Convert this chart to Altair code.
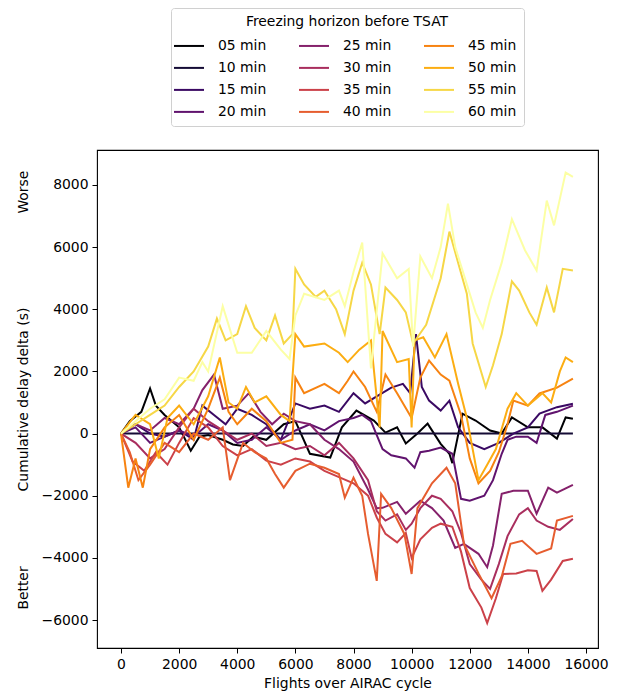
import altair as alt
import pandas as pd

LABELS = ["05 min", "10 min", "15 min", "20 min", "25 min", "30 min",
          "35 min", "40 min", "45 min", "50 min", "55 min", "60 min"]
COLORS = ["#000004", "#140b35", "#3a0963", "#60136e", "#85216b", "#a92e5e",
          "#cb4149", "#e65d2f", "#f78311", "#fcad12", "#f6d746", "#fcffa4"]

S05_X = [0, 300, 700, 1000, 1200, 1500, 2000, 2400, 2700, 3000, 3500, 3850, 4200, 4550, 5000, 5600, 6000, 6500,
         7200, 7600, 8100, 8700, 9100, 9500, 9800, 10200, 10550, 11000, 11300, 11400, 11750, 12200, 12700, 13100,
         13450, 14000, 14500, 15000, 15300, 15550]
S05_Y = [0, 400, 700, 1450, 900, 600, 200, -550, -100, -50, -200, -350, -400, -100, -200, 300, 400, -650,
         -770, 200, 740, 420, 30, 200, -320, 0, 320, -330, -650, -950, 640, 420, 100, 0,
         520, 200, 200, -160, 520, 480]

S10_X = [0, 15550]
S10_Y = [0, 0]

S15_X = [0, 500, 1000, 1500, 2000, 2500, 2800, 3200, 3600, 4000, 4500, 5000, 5500, 6000, 6500, 7000, 7500, 8000,
         8400, 8800, 9300, 9700, 9950, 10150, 10350, 10600, 11000, 11300, 11600, 12000, 12500, 13000, 13500, 14000,
         14400, 15000, 15550]
S15_Y = [0, 300, 0, -100, 100, -200, 900, 600, 300, 800, 600, 300, -200, 970, 800, 900, 700, 1300,
         970, 1200, 1480, 1600, 1300, 3200, 1500, 1060, 740, 1060, 200, -300, -500, -300, 0, 200,
         640, 850, 960]

S20_X = [0, 500, 1000, 1500, 2000, 2500, 3000, 3500, 4000, 4500, 5000, 5500, 6000, 6500, 7000, 7500, 8000, 8300,
         8600, 9000, 9300, 9800, 10100, 10300, 10600, 11000, 11400, 11700, 12000, 12500, 12800, 13100, 13300,
         13600, 14000, 14300, 14600, 15000, 15550]
S20_Y = [0, 200, -300, -100, 100, -100, 300, 100, -300, -200, 200, -200, 100, 300, 100, 400, 500, 600,
         400, -500, -700, -800, -1100, -600, -550, -450, -650, -2100, -2160, -2000, -1500, -650, -200,
         -100, -100, -300, 600, 700, 900]

S25_X = [0, 500, 1000, 1500, 2000, 2500, 2800, 3200, 3500, 4000, 4400, 4800, 5200, 5600, 6000, 6500, 7000, 7500,
         8000, 8500, 8800, 9000, 9500, 9800, 10300, 10700, 11100, 11500, 11800, 12300, 12600, 12800, 13100,
         13500, 14000, 14300, 14700, 15000, 15550]
S25_Y = [0, 300, 100, 500, 300, 800, 1400, 1900, 800, 900, 1300, 700, 300, 640, 400, 300, -200, -500,
         -900, -1800, -2400, -2390, -2200, -2580, -2160, -2400, -2800, -3680, -3550, -3870, -4300, -3600, -1940,
         -1840, -1840, -2580, -1740, -1900, -1650]

S30_X = [0, 500, 1000, 1500, 2000, 2500, 3000, 3500, 4000, 4500, 5000, 5500, 6000, 6500, 7000, 7500, 8000, 8500,
         8800, 9100, 9500, 9800, 10000, 10300, 10700, 11000, 11400, 11700, 12000, 12400, 12700, 13000, 13300,
         13700, 14000, 14300, 14700, 15100, 15550]
S30_Y = [0, -300, -800, -500, 200, 800, 400, 100, -200, 0, -400, -300, -500, -400, -700, -300, -800, -1500,
         -2500, -2800, -2600, -3100, -2900, -2400, -2000, -2100, -2500, -3200, -4200, -4700, -5000, -4200, -3300,
         -2600, -2400, -2800, -3000, -3100, -2750]

S35_X = [0, 400, 800, 1200, 1600, 2000, 2500, 3000, 3500, 4000, 4500, 5000, 5500, 6000, 6500, 7000, 7500, 8000,
         8500, 8800, 9100, 9500, 9800, 10000, 10300, 10700, 11000, 11400, 11700, 12000, 12400, 12600, 12900,
         13150, 13600, 14000, 14300, 14500, 14800, 15200, 15550]
S35_Y = [0, -900, -1200, -600, -1000, -300, 500, 200, -400, -700, -500, -870, -1000, -800, -900, -1200, -1400, -1600,
         -2000, -2700, -3230, -3500, -3200, -4000, -3400, -3030, -2900, -3000, -3800, -4970, -5600, -6100, -5300,
         -4520, -4500, -4400, -4420, -5060, -4700, -4100, -4030]

S40_X = [0, 300, 600, 1000, 1500, 2000, 2500, 3000, 3500, 3750, 4200, 4600, 5000, 5300, 5600, 6000, 6500, 7000,
         7500, 7700, 8000, 8300, 8500, 8800, 8950, 9300, 9750, 10000, 10200, 10700, 11200, 11500, 11800, 12300,
         12750, 13100, 13400, 13800, 14300, 14800, 15000, 15550]
S40_Y = [0, -600, -1500, -1000, -300, -600, 0, -200, 200, -1500, -300, -600, -800, -1300, -1740, -1200, -970, -1100,
         -1300, -2060, -1420, -2000, -3230, -4740, -1940, -2400, -3230, -4520, -2400, -1600, -1100, -1600, -3550, -4500,
         -5300, -4600, -3550, -3450, -3870, -3700, -2800, -2650]

S45_X = [0, 250, 500, 750, 1000, 1500, 2000, 2500, 3000, 3400, 3700, 4000, 4500, 5000, 5500, 5900, 6000, 6300,
         7000, 7500, 7800, 8000, 8400, 8800, 9100, 9500, 10000, 10300, 10600, 11000, 11300, 11700, 12000, 12300,
         12700, 13000, 13300, 13500, 14000, 14400, 15000, 15550]
S45_Y = [0, -1740, -800, -1740, -500, 200, 600, -200, 800, 1800, 700, 300, 800, 400, -300, -200, 1800, 1300,
         1600, 1300, 1700, 2000, 1500, 700, 1900, 1300, 500, 1800, 2350, 1900, 1700, 600, -800, -1600,
         -1200, -600, 300, 1060, 900, 1290, 1480, 1770]

S50_X = [0, 500, 1000, 1300, 1600, 2000, 2500, 3000, 3400, 3700, 4000, 4300, 4600, 5000, 5500, 5800, 6000, 6300,
         7000, 7500, 7800, 8200, 8600, 8900, 9000, 9500, 9900, 10000, 10100, 10400, 10800, 11200, 11600, 11900,
         12300, 12600, 12900, 13300, 13600, 14000, 14500, 14800, 15100, 15300, 15550]
S50_Y = [0, 600, 300, -800, 500, 900, 300, 1200, 2450, 1000, 800, 1500, 1000, 1200, 600, 400, 3200, 2800,
         2900, 2600, 2300, 2700, 3000, 200, 3300, 2300, 2400, 200, 3000, 3100, 2450, 3200, 1600, 500,
         -1500, -1000, -500, 800, 1300, 900, 1300, 1000, 2000, 2450, 2300]

S55_X = [0, 500, 1000, 1500, 2000, 2500, 3000, 3300, 3600, 4000, 4300, 4600, 5000, 5300, 5600, 5900, 6000, 6300,
         6700, 7000, 7400, 7700, 8000, 8300, 8600, 8900, 9100, 9500, 9800, 10050, 10500, 11000, 11300, 11600,
         11900, 12100, 12550, 12800, 13100, 13450, 13700, 14050, 14300, 14650, 14900, 15200, 15550]
S55_Y = [0, 300, 600, 900, 1500, 2000, 2800, 3700, 3000, 3200, 4100, 3400, 3000, 3800, 2900, 3200, 5300, 4800,
         4400, 4600, 4000, 3200, 4600, 5500, 4800, 3200, 4700, 4300, 3900, 2900, 3500, 5000, 6500, 5500,
         4500, 2900, 1500, 2200, 3200, 4900, 4600, 3900, 3500, 4700, 3900, 5300, 5250]

S60_X = [0, 500, 1000, 1500, 2000, 2500, 2800, 3000, 3500, 3800, 4000, 4500, 5000, 5500, 5800, 6000, 6300, 7000,
         7500, 7700, 8000, 8300, 8600, 9000, 9500, 9900, 10050, 10300, 10700, 11000, 11250, 11500, 11900, 12200,
         12450, 12700, 13100, 13450, 13900, 14300, 14650, 14900, 15300, 15550]
S60_Y = [0, 400, 800, 1100, 1800, 1700, 2300, 2000, 4100, 3200, 2600, 2600, 3300, 2700, 2400, 3800, 4500, 4300,
         4600, 4100, 5200, 6150, 2100, 5800, 5000, 5300, 2800, 5700, 5000, 6000, 7400, 6000, 4800, 3900,
         3400, 4300, 5500, 6900, 5900, 5250, 7500, 6700, 8400, 8260]

SERIES = [(S05_X, S05_Y), (S10_X, S10_Y), (S15_X, S15_Y), (S20_X, S20_Y), (S25_X, S25_Y), (S30_X, S30_Y),
          (S35_X, S35_Y), (S40_X, S40_Y), (S45_X, S45_Y), (S50_X, S50_Y), (S55_X, S55_Y), (S60_X, S60_Y)]

X_TICKS = [0, 2000, 4000, 6000, 8000, 10000, 12000, 14000, 16000]
Y_TICKS = [-6000, -4000, -2000, 0, 2000, 4000, 6000, 8000]

ANNOT_TEXT = ["Worse", "Better"]
ANNOT_Y = [7770, -4970]

rows = []
for lab, (xs, ys) in zip(LABELS, SERIES):
    for x, y in zip(xs, ys):
        rows.append({"series": lab, "flights": x, "delta": y})
df = pd.DataFrame(rows)

FONT = "DejaVu Sans"
FS = 13.9

x_enc = alt.X("flights:Q",
              scale=alt.Scale(domain=[-826, 16413], nice=False, zero=False),
              axis=alt.Axis(values=X_TICKS, format="d", title="Flights over AIRAC cycle"))
y_enc = alt.Y("delta:Q",
              scale=alt.Scale(domain=[-6901, 9126], nice=False, zero=False),
              axis=alt.Axis(values=Y_TICKS, format="d", title="Cumulative delay delta (s)"))

lines = alt.Chart(df).mark_line(strokeWidth=2, clip=True).encode(
    x=x_enc,
    y=y_enc,
    color=alt.Color(
        "series:N",
        scale=alt.Scale(domain=LABELS, range=COLORS),
        legend=alt.Legend(
            title="Freezing horizon before TSAT",
            orient="none", legendX=74, legendY=-142,
            columns=3, columnPadding=28, rowPadding=4,
            symbolType="M-1.5,0H1.5", symbolSize=400, symbolStrokeWidth=2,
            labelFont=FONT, labelFontSize=FS, labelColor="black", labelOffset=18,
            titleFont=FONT, titleFontSize=FS, titleFontWeight="normal", titleColor="black",
            titleAnchor="middle", titlePadding=6, titleLimit=400,
            strokeColor="#d0d0d0", fillColor="white", cornerRadius=3, padding=7,
        ),
    ),
)

annot_df = pd.DataFrame({"txt": ANNOT_TEXT, "delta": ANNOT_Y})
annot = alt.Chart(annot_df).mark_text(angle=270, font=FONT, fontSize=FS, color="black").encode(
    x=alt.value(-73),
    y=alt.Y("delta:Q"),
    text="txt:N",
)

chart = alt.layer(lines, annot).properties(
    width=501, height=498,
    padding={"left": 89, "top": 142, "right": 13, "bottom": 46},
    autosize="none",
).configure_view(
    stroke="black", strokeWidth=1.1
).configure_axis(
    grid=False, domain=False,
    tickColor="black", tickSize=5, tickWidth=1,
    labelFont=FONT, labelFontSize=FS, labelColor="black", labelPadding=4,
    titleFont=FONT, titleFontSize=FS, titleFontWeight="normal", titleColor="black",
).configure_axisY(titlePadding=11).configure_axisX(titlePadding=6)

chart.save("out.html", embed_options={"renderer": "svg", "actions": False})
